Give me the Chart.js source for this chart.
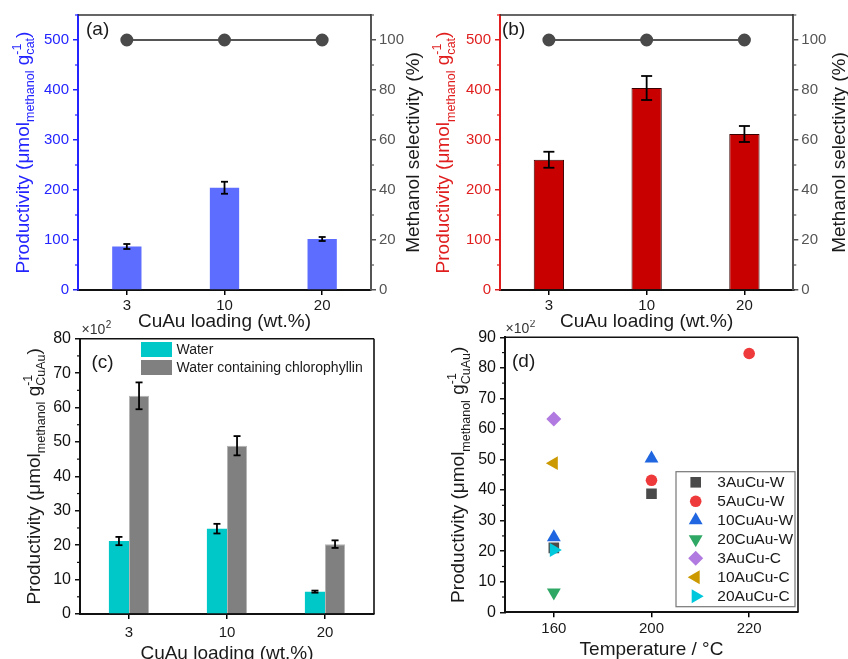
<!DOCTYPE html>
<html>
<head>
<meta charset="utf-8">
<script src="https://cdn.jsdelivr.net/npm/chart.js@4.4.0/dist/chart.umd.min.js"></script>
<style>
  html, body { margin: 0; padding: 0; background: #fff; }
  #wrap { position: relative; width: 848px; height: 659px; overflow: hidden; background: #fff; }
  canvas { position: absolute; }
</style>
</head>
<body>
<div id="wrap">
  <canvas id="chartA" width="424" height="340" style="left:0;top:0"></canvas>
  <canvas id="chartB" width="424" height="340" style="left:424px;top:0"></canvas>
  <canvas id="chartC" width="424" height="339" style="left:0;top:320px"></canvas>
  <canvas id="chartD" width="424" height="339" style="left:424px;top:320px"></canvas>
</div>
<script>
// data
const loadings = ['3', '10', '20'];
const prodA = [87, 204.5, 102];
const prodAErr = [5, 12, 4];
const selectA = [100, 100, 100];
const prodB = [260.5, 404, 312];
const prodBErr = [16, 24, 16];
const selectB = [100, 100, 100];
const prodWater = [21.2, 24.8, 6.5];
const prodWaterErr = [1.2, 1.4, 0.3];
const prodChloro = [63.4, 48.9, 20.3];
const prodChloroErr = [3.9, 2.8, 1.1];
const temps = ['160', '200', '220'];
const auCu3W = [21.1, 38.8, null];
const auCu5W = [null, 43.2, 84.7];
const cuAu10W = [24.6, 50.3, null];
const cuAu20W = [6.5, null, null];
const auCu3C = [63.3, null, null];
const auCu10C = [48.8, null, null];
const auCu20C = [20.4, null, null];

const FONT = "'Liberation Sans', Arial, sans-serif";
const BLUE = '#2424ff';
const RED = '#e01e1e';
const GRAY = '#555555';
const INK = '#1a1a1a';

function font(size) { return size + 'px ' + FONT; }

function line(ctx, x0, y0, x1, y1) {
  ctx.beginPath(); ctx.moveTo(x0, y0); ctx.lineTo(x1, y1); ctx.stroke();
}

// rotated title with sub/superscripts
function segWidth(ctx, s, size) {
  const small = size * 0.66;
  if (s.sub !== undefined) {
    ctx.font = font(small);
    return Math.max(ctx.measureText(s.sub).width, ctx.measureText(s.sup).width);
  }
  ctx.font = font(s.small ? small : size);
  return ctx.measureText(s.t).width;
}

function drawRich(ctx, segs, cx, cy, size, color) {
  const small = size * 0.66;
  ctx.save();
  ctx.translate(cx, cy);
  ctx.rotate(-Math.PI / 2);
  ctx.fillStyle = color;
  ctx.textAlign = 'left';
  ctx.textBaseline = 'alphabetic';
  const ws = segs.map(s => segWidth(ctx, s, size));
  let x = -ws.reduce((a, b) => a + b, 0) / 2;
  segs.forEach((s, i) => {
    if (s.sub !== undefined) {
      ctx.font = font(small);
      ctx.fillText(s.sub, x, size * 0.3);
      ctx.fillText(s.sup, x, -size * 0.42);
    } else {
      ctx.font = font(s.small ? small : size);
      ctx.fillText(s.t, x, s.small ? size * 0.3 : 0);
    }
    x += ws[i];
  });
  ctx.restore();
}

const decor = {
  id: 'decor',
  afterDatasetsDraw(chart, args, o) {
    const ctx = chart.ctx;
    ctx.save();
    ctx.strokeStyle = '#000';
    ctx.lineWidth = 1.8;
    chart.data.datasets.forEach((ds, di) => {
      if (!ds.errors) return;
      const meta = chart.getDatasetMeta(di);
      const sc = chart.scales[meta.yAxisID];
      meta.data.forEach((el, i) => {
        const v = ds.data[i], e = ds.errors[i];
        const top = sc.getPixelForValue(v + e), bot = sc.getPixelForValue(v - e);
        const c = o.errCap || 3.5;
        line(ctx, el.x, top, el.x, bot);
        line(ctx, el.x - c, top, el.x + c, top);
        line(ctx, el.x - c, bot, el.x + c, bot);
      });
    });
    ctx.restore();
  },
  afterDraw(chart, args, o) {
    const ctx = chart.ctx;
    const a = chart.chartArea;
    ctx.save();
    // frame
    ctx.strokeStyle = o.frameColor || '#222';
    ctx.lineWidth = 1.6;
    line(ctx, a.left, a.top, a.right, a.top);
    if (o.frame === 'box') line(ctx, a.right, a.top, a.right, a.bottom);

    // minor ticks
    (o.minor || []).forEach(m => {
      const sc = chart.scales[m.axis];
      const major = sc.options.ticks.stepSize;
      const left = sc.position === 'left';
      const x0 = left ? sc.right : sc.left;
      ctx.strokeStyle = m.color;
      ctx.lineWidth = 1.2;
      for (let v = sc.min; v <= sc.max + 1e-9; v += m.step) {
        const r = v / major;
        if (Math.abs(r - Math.round(r)) < 1e-6) continue;
        const py = sc.getPixelForValue(v);
        line(ctx, x0, py, x0 + (left ? -3 : 3), py);
      }
    });

    // titles
    const cy = (a.top + a.bottom) / 2;
    if (o.yTitle) drawRich(ctx, o.yTitle.segs, o.yTitle.x, cy, 19, o.yTitle.color);
    if (o.y1Title) drawRich(ctx, [{ t: o.y1Title.text }], o.y1Title.x, cy, 19, o.y1Title.color);
    if (o.xTitle) {
      ctx.font = font(19);
      ctx.fillStyle = INK;
      ctx.textAlign = 'center';
      ctx.textBaseline = 'alphabetic';
      ctx.fillText(o.xTitle.text, (a.left + a.right) / 2, o.xTitle.y);
    }
    if (o.panel) {
      ctx.font = font(19);
      ctx.fillStyle = INK;
      ctx.textAlign = 'left';
      ctx.textBaseline = 'middle';
      ctx.fillText(o.panel.text, o.panel.x, o.panel.y);
    }
    if (o.mult) {
      ctx.fillStyle = '#333';
      ctx.textAlign = 'left';
      ctx.textBaseline = 'alphabetic';
      ctx.font = font(14);
      ctx.fillText('×10', o.mult.x, o.mult.y);
      const w = ctx.measureText('×10').width;
      ctx.font = font(10);
      ctx.fillText('2', o.mult.x + w + 0.5, o.mult.y - 6);
    }

    // legends
    const lg = o.legend;
    if (lg && lg.type === 'box') {
      chart.data.datasets.forEach((ds, i) => {
        const y = lg.y + i * lg.gap;
        ctx.fillStyle = ds.backgroundColor;
        ctx.fillRect(lg.x, y, lg.w, lg.h);
        ctx.fillStyle = INK;
        ctx.font = font(lg.size);
        ctx.textAlign = 'left';
        ctx.textBaseline = 'middle';
        ctx.fillText(ds.label, lg.textX, y + lg.h / 2 + 0.5);
      });
    }
    if (lg && lg.type === 'point') {
      ctx.fillStyle = '#fff';
      ctx.fillRect(lg.box[0], lg.box[1], lg.box[2], lg.box[3]);
      ctx.strokeStyle = '#777';
      ctx.lineWidth = 1.2;
      ctx.strokeRect(lg.box[0], lg.box[1], lg.box[2], lg.box[3]);
      chart.data.datasets.forEach((ds, i) => {
        const y = lg.y + i * lg.gap;
        ctx.fillStyle = ds.backgroundColor;
        ctx.strokeStyle = ds.backgroundColor;
        Chart.helpers.drawPoint(ctx, {
          pointStyle: ds.pointStyle, rotation: ds.rotation || 0,
          radius: ds.pointRadius, borderWidth: 0
        }, lg.x, y);
        ctx.fillStyle = INK;
        ctx.font = font(lg.size);
        ctx.textAlign = 'left';
        ctx.textBaseline = 'middle';
        ctx.fillText(ds.label, lg.textX, y + 0.5);
      });
    }
    ctx.restore();
  }
};

function fixW(w) { return s => { s.width = w; }; }
function fixH(h) { return s => { s.height = h; }; }

function catAxis(h) {
  return {
    type: 'category', offset: true,
    grid: { offset: false, drawOnChartArea: false, drawTicks: true, tickLength: 5, color: '#000', lineWidth: 1.5 },
    border: { color: '#111', width: 2 },
    ticks: { color: INK, font: { family: FONT, size: 15 }, padding: 2, maxRotation: 0 },
    afterFit: fixH(h)
  };
}

function valAxis(pos, max, step, color, w, size, pad) {
  return {
    type: 'linear', position: pos, min: 0, max: max,
    grid: { drawOnChartArea: false, drawTicks: true, tickLength: 5, color: color, lineWidth: 1.5 },
    border: { color: color, width: 2 },
    ticks: { stepSize: step, includeBounds: false, color: color, font: { family: FONT, size: size }, padding: pad },
    afterFit: fixW(w)
  };
}

const prodSegs = sub => [
  { t: 'Productivity (μmol' }, { t: 'methanol', small: true }, { t: ' g' },
  { sub: sub, sup: '-1' }, { t: ')' }
];

const baseOpts = {
  responsive: false,
  animation: false,
  events: [],
  devicePixelRatio: 1
};

function selectivityPanel(id, values, errors, select, barColor, barBorder, axisColor, o) {
  return new Chart(document.getElementById(id), {
    data: {
      labels: loadings,
      datasets: [
        {
          type: 'line', label: 'Methanol selectivity', data: select, yAxisID: 'y1',
          borderColor: GRAY, borderWidth: 2, pointRadius: 5.5, pointStyle: 'circle',
          pointBackgroundColor: '#4a4a4a', pointBorderColor: '#4a4a4a', order: 0
        },
        {
          type: 'bar', label: 'Productivity', data: values, errors: errors, yAxisID: 'y',
          backgroundColor: barColor, borderColor: barBorder, borderWidth: barBorder ? 1 : 0,
          barPercentage: 1, categoryPercentage: o.barFrac, order: 1
        }
      ]
    },
    options: Object.assign({}, baseOpts, {
      layout: { padding: { top: 15, left: 0, right: 0, bottom: 0 }, autoPadding: false },
      scales: {
        x: catAxis(50),
        y: valAxis('left', 550, 100, axisColor, o.leftW, 15, 4),
        y1: valAxis('right', 110, 20, GRAY, o.rightW, 15, 3)
      },
      plugins: {
        legend: { display: false }, tooltip: { enabled: false },
        decor: {
          frameColor: '#333', errCap: o.cap,
          panel: { text: o.panel, x: o.panelX, y: 30 },
          yTitle: { segs: prodSegs('cat'), x: o.titleX, color: axisColor },
          y1Title: { text: 'Methanol selectivity (%)', x: o.title1X, color: INK },
          xTitle: { text: 'CuAu loading (wt.%)', y: 327 },
          minor: [{ axis: 'y', step: 50, color: axisColor }, { axis: 'y1', step: 10, color: GRAY }]
        }
      }
    }),
    plugins: [decor]
  });
}

selectivityPanel('chartA', prodA, prodAErr, selectA, '#5d6dff', null, BLUE,
  { barFrac: 0.3, leftW: 78, rightW: 53, cap: 3.5, panel: '(a)', panelX: 86, titleX: 28.5, title1X: 418.5 });
selectivityPanel('chartB', prodB, prodBErr, selectB, '#c80000', '#3a0000', RED,
  { barFrac: 0.31, leftW: 76, rightW: 54.7, cap: 5.5, panel: '(b)', panelX: 78, titleX: 25, title1X: 421 });

// (c)
new Chart(document.getElementById('chartC'), {
  type: 'bar',
  data: {
    labels: loadings,
    datasets: [
      { label: 'Water', data: prodWater, errors: prodWaterErr, backgroundColor: '#00c8c8',
        borderWidth: 0, barPercentage: 1, categoryPercentage: 0.41 },
      { label: 'Water containing chlorophyllin', data: prodChloro, errors: prodChloroErr,
        backgroundColor: '#808080', borderColor: '#b4b4b4', borderWidth: 1,
        barPercentage: 1, categoryPercentage: 0.41 }
    ]
  },
  options: Object.assign({}, baseOpts, {
    layout: { padding: { top: 18.7, left: 0, right: 50, bottom: 0 }, autoPadding: false },
    scales: {
      x: Object.assign(catAxis(45), { ticks: { color: INK, font: { family: FONT, size: 15 }, padding: 5 } }),
      y: valAxis('left', 80, 10, '#111', 80, 16, 4)
    },
    plugins: {
      legend: { display: false }, tooltip: { enabled: false },
      decor: {
        frame: 'box', frameColor: '#111', errCap: 3.5,
        panel: { text: '(c)', x: 91.5, y: 42.5 },
        mult: { x: 81.5, y: 14 },
        yTitle: { segs: prodSegs('CuAu'), x: 39.5, color: INK },
        xTitle: { text: 'CuAu loading (wt.%)', y: 338.6 },
        minor: [{ axis: 'y', step: 5, color: '#111' }],
        legend: { type: 'box', x: 141, y: 22, w: 31, h: 15, gap: 18, textX: 176.5, size: 14 }
      }
    }
  }),
  plugins: [decor]
});

// (d)
function pts(vals) {
  return temps.map((t, i) => ({ x: t, y: vals[i] })).filter(p => p.y !== null);
}
function series(label, vals, color, style, radius, rotation, order) {
  return {
    label: label, data: pts(vals), backgroundColor: color, borderColor: color, borderWidth: 0,
    pointStyle: style, pointRadius: radius, rotation: rotation, order: order
  };
}

new Chart(document.getElementById('chartD'), {
  type: 'scatter',
  data: {
    labels: temps,
    datasets: [
      series('3AuCu-W', auCu3W, '#4a4a4a', 'rect', 7.5, 0, 6),
      series('5AuCu-W', auCu5W, '#ee3a3a', 'circle', 5.8, 0, 5),
      series('10CuAu-W', cuAu10W, '#1f66e0', 'triangle', 8, 0, 4),
      series('20CuAu-W', cuAu20W, '#2fa865', 'triangle', 8, 180, 3),
      series('3AuCu-C', auCu3C, '#b07ae0', 'rectRot', 7.5, 0, 2),
      series('10AuCu-C', auCu10C, '#cc9a00', 'triangle', 8, 270, 1),
      series('20AuCu-C', auCu20C, '#00c8dc', 'triangle', 8, 90, 0)
    ]
  },
  options: Object.assign({}, baseOpts, {
    layout: { padding: { top: 17.3, left: 0, right: 50, bottom: 0 }, autoPadding: false },
    scales: {
      x: Object.assign(catAxis(46.7), { ticks: { color: INK, font: { family: FONT, size: 15 }, padding: 3 } }),
      y: valAxis('left', 90, 10, '#111', 81, 16, 4)
    },
    plugins: {
      legend: { display: false }, tooltip: { enabled: false },
      decor: {
        frame: 'box', frameColor: '#111',
        panel: { text: '(d)', x: 88, y: 42 },
        mult: { x: 81.5, y: 13 },
        yTitle: { segs: prodSegs('CuAu'), x: 40, color: INK },
        xTitle: { text: 'Temperature / °C', y: 335.3 },
        minor: [{ axis: 'y', step: 5, color: '#111' }],
        legend: { type: 'point', box: [252, 151.7, 119, 135], x: 271.7, y: 162.3, gap: 19, textX: 293.3, size: 15.5 }
      }
    }
  }),
  plugins: [decor]
});
</script>
</body>
</html>
